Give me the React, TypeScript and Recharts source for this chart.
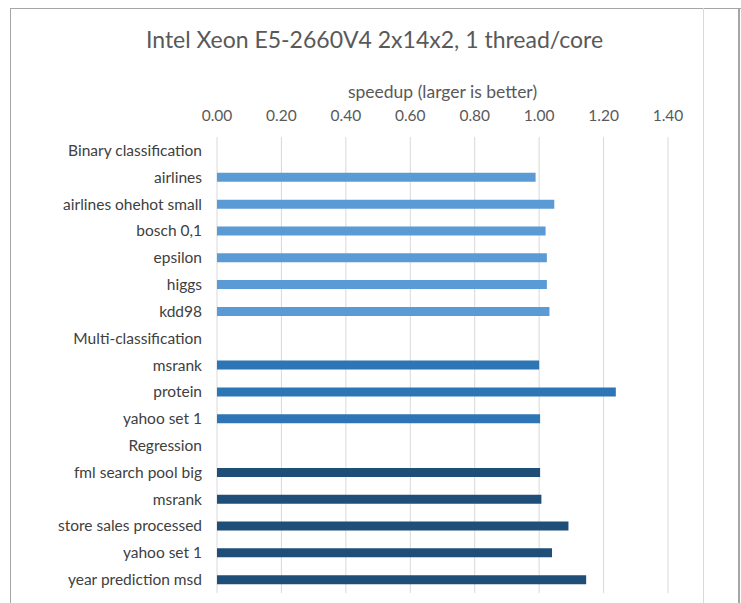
import React from 'react';
import { BarChart, Bar, XAxis, YAxis, CartesianGrid, Cell } from 'recharts';

const categories = [
  'Binary classification',
  'airlines',
  'airlines ohehot small',
  'bosch 0,1',
  'epsilon',
  'higgs',
  'kdd98',
  'Multi-classification',
  'msrank',
  'protein',
  'yahoo set 1',
  'Regression',
  'fml search pool big',
  'msrank',
  'store sales processed',
  'yahoo set 1',
  'year prediction msd',
];

const speedups: (number | null)[] = [
  null, 0.989, 1.047, 1.02, 1.024, 1.024, 1.032,
  null, 1.0, 1.238, 1.003,
  null, 1.003, 1.007, 1.091, 1.04, 1.146,
];

const groups = [
  'h', 'b', 'b', 'b', 'b', 'b', 'b',
  'h', 'm', 'm', 'm',
  'h', 'r', 'r', 'r', 'r', 'r',
];

const groupColors: Record<string, string> = {
  h: '#ffffff',
  b: '#5B9BD5',
  m: '#2E75B6',
  r: '#1F4E79',
};

const xTicks = [0, 0.2, 0.4, 0.6, 0.8, 1.0, 1.2, 1.4];

const title = 'Intel Xeon E5-2660V4 2x14x2, 1 thread/core';
const axisTitle = 'speedup (larger is better)';

const data = categories.map((name, i) => ({ name, value: speedups[i], group: groups[i] }));

const FONT = 'Lato, "Open Sans", sans-serif';

export default function App() {
  return (
    <div style={{ position: 'absolute', left: 0, top: 0, width: 741, height: 603, background: '#fff', fontFamily: FONT }}>
      <div style={{ position: 'absolute', left: 10, top: 8, width: 731, height: 1, background: '#A6A6A6' }} />
      <div style={{ position: 'absolute', left: 10, top: 8, width: 1, height: 595, background: '#A6A6A6' }} />
      <div style={{ position: 'absolute', left: 738, top: 8, width: 2, height: 595, background: '#A6A6A6' }} />
      <div style={{ position: 'absolute', left: 703, top: 8, width: 1, height: 595, background: '#D9D9D9' }} />
      <div style={{ position: 'absolute', left: 10, width: 729, top: 24, textAlign: 'center', fontSize: 23, color: '#595959', lineHeight: '30px', whiteSpace: 'nowrap' }}>
        {title}
      </div>
      <div style={{ position: 'absolute', left: 0, top: 0 }}>
        <BarChart
          width={741}
          height={603}
          data={data}
          layout="vertical"
          margin={{ top: 107, right: 73, bottom: 10, left: 0 }}
          barSize={9}
        >
          <CartesianGrid horizontal={false} vertical={true} stroke="#D9D9D9" />
          <XAxis
            type="number"
            orientation="top"
            domain={[0, 1.4]}
            ticks={xTicks}
            tickFormatter={(v: number) => v.toFixed(2)}
            axisLine={false}
            tickLine={false}
            tickMargin={10}
            height={30}
            tick={{ fill: '#595959', fontSize: 15.5, fontFamily: FONT }}
            label={{ value: axisTitle, position: 'top', offset: 9, fill: '#595959', fontSize: 17.5, fontFamily: FONT }}
            allowDataOverflow
          />
          <YAxis
            type="category"
            dataKey="name"
            width={217}
            axisLine={false}
            tickLine={false}
            tickMargin={9}
            interval={0}
            allowDuplicatedCategory={true}
            tick={{ fill: '#404040', fontSize: 15.5, fontFamily: FONT }}
          />
          <Bar dataKey="value" isAnimationActive={false}>
            {data.map((d, i) => (
              <Cell key={i} fill={groupColors[d.group]} />
            ))}
          </Bar>
        </BarChart>
      </div>
    </div>
  );
}
